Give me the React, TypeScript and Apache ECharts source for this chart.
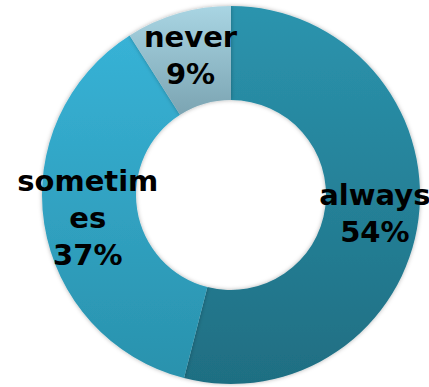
import React, { useEffect, useRef } from "react";
import * as echarts from "echarts";

const categories = ["always", "sometimes", "never"];
const values = [54, 37, 9];
const topColors = ["#2b94ae", "#37b2d6", "#a9d5e3"];
const bottomColors = ["#1f6e82", "#2a92ad", "#7ba4b2"];

export default function App() {
  const ref = useRef<HTMLDivElement>(null);
  useEffect(() => {
    if (!ref.current) return;
    const chart = echarts.init(ref.current, undefined, { renderer: "svg" });
    chart.setOption({
      animation: false,
      backgroundColor: "#ffffff",
      series: [
        {
          type: "pie",
          center: [231, 195],
          radius: [95, 189],
          startAngle: 90,
          clockwise: true,
          avoidLabelOverlap: false,
          itemStyle: {
            shadowBlur: 4,
            shadowColor: "rgba(0,0,0,0.3)",
          },
          label: {
            show: true,
            position: "inside",
            formatter: "{b}\n{d}%",
            color: "#000",
            fontFamily: "DejaVu Sans",
            fontWeight: "bold",
            fontSize: 29,
            lineHeight: 37,
            width: 146,
            overflow: "breakAll",
            align: "center",
          },
          labelLine: { show: false },
          data: categories.map((name, i) => ({
            name,
            value: values[i],
            itemStyle: {
              color: new echarts.graphic.LinearGradient(0, 0, 0, 1, [
                { offset: 0, color: topColors[i] },
                { offset: 1, color: bottomColors[i] },
              ]),
            },
          })),
        },
      ],
    });
    return () => chart.dispose();
  }, []);
  return (
    <div
      ref={ref}
      style={{ position: "fixed", left: 0, top: 0, width: 429, height: 387 }}
    />
  );
}
